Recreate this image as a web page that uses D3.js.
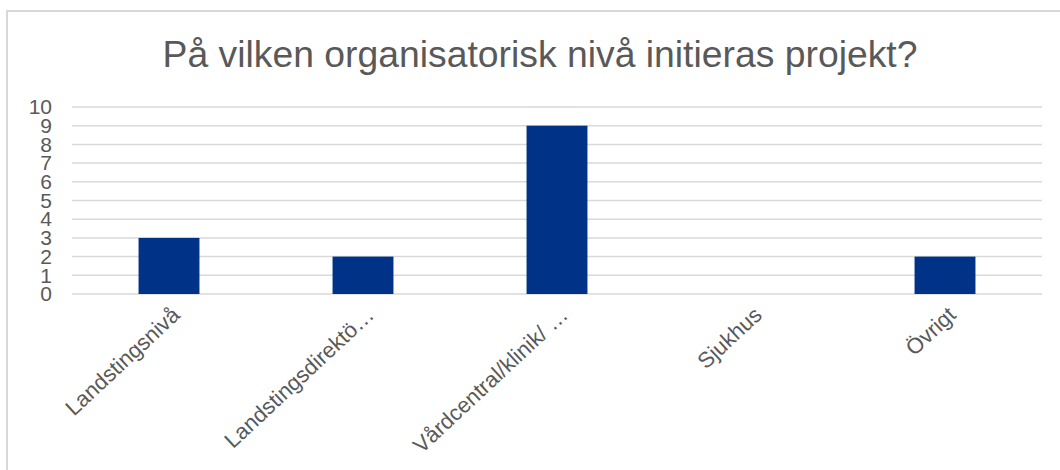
<!DOCTYPE html>
<html>
<head>
<meta charset="utf-8">
<script src="https://cdn.jsdelivr.net/npm/d3@7"></script>
<style>
  body { margin: 0; background: #fff; }
  svg text { font-family: "Liberation Sans", Arial, sans-serif; fill: #595959; }
</style>
</head>
<body>
<div id="chart"></div>
<script>
const categories = ['Landstingsnivå', 'Landstingsdirektö…', 'Vårdcentral/klinik/ …', 'Sjukhus', 'Övrigt']
const values = [3, 2, 9, 0, 2]
const yTicks = [0, 1, 2, 3, 4, 5, 6, 7, 8, 9, 10]
const title = 'På vilken organisatorisk nivå initieras projekt?'

const width = 1060, height = 470
const margin = { top: 107, right: 18, bottom: 176, left: 72 }

const svg = d3.select('#chart').append('svg')
    .attr('width', width)
    .attr('height', height)

// chart frame, cut off at right and bottom like the source
svg.append('rect')
    .attr('x', 7)
    .attr('y', 11)
    .attr('width', 1080)
    .attr('height', 490)
    .attr('fill', 'none')
    .attr('stroke', '#d9d9d9')
    .attr('stroke-width', 2)

svg.append('text')
    .attr('x', 540)
    .attr('y', 67)
    .attr('text-anchor', 'middle')
    .attr('font-size', '36px')
    .attr('textLength', 755)
    .attr('lengthAdjust', 'spacingAndGlyphs')
    .text(title)

const x = d3.scaleBand()
    .domain(categories)
    .range([margin.left, width - margin.right])
    .paddingInner(0.686)
    .paddingOuter(0.343)

const y = d3.scaleLinear()
    .domain([0, 10])
    .range([height - margin.bottom, margin.top])

// gridlines
svg.append('g')
    .selectAll('line')
    .data(yTicks)
    .join('line')
    .attr('x1', margin.left)
    .attr('x2', width - margin.right)
    .attr('y1', d => y(d))
    .attr('y2', d => y(d))
    .attr('stroke', '#d9d9d9')
    .attr('stroke-width', 1.5)

// y axis labels (tightly packed, as in the source)
const yAxis = svg.append('g')
    .attr('transform', `translate(${margin.left - 20},0)`)
    .call(d3.axisLeft(y).tickValues(yTicks).tickSize(0).tickPadding(0))
yAxis.select('.domain').remove()
yAxis.selectAll('text')
    .attr('font-size', '21px')
    .attr('fill', '#595959')
    .attr('font-family', '"Liberation Sans", Arial, sans-serif')

// bars
svg.append('g')
    .selectAll('rect')
    .data(values)
    .join('rect')
    .attr('x', (d, i) => x(categories[i]))
    .attr('y', d => y(d))
    .attr('width', x.bandwidth())
    .attr('height', d => y(0) - y(d))
    .attr('fill', '#003288')

// category labels, rotated
const xAxis = svg.append('g')
    .attr('transform', `translate(0,${y(0)})`)
    .call(d3.axisBottom(x).tickSize(0).tickPadding(0))
xAxis.select('.domain').remove()
xAxis.selectAll('text')
    .attr('font-size', '22px')
    .attr('fill', '#595959')
    .attr('font-family', '"Liberation Sans", Arial, sans-serif')
    .attr('text-anchor', 'end')
    .attr('dy', '0.35em')
    .attr('transform', 'translate(7,17) rotate(-43)')
</script>
</body>
</html>
